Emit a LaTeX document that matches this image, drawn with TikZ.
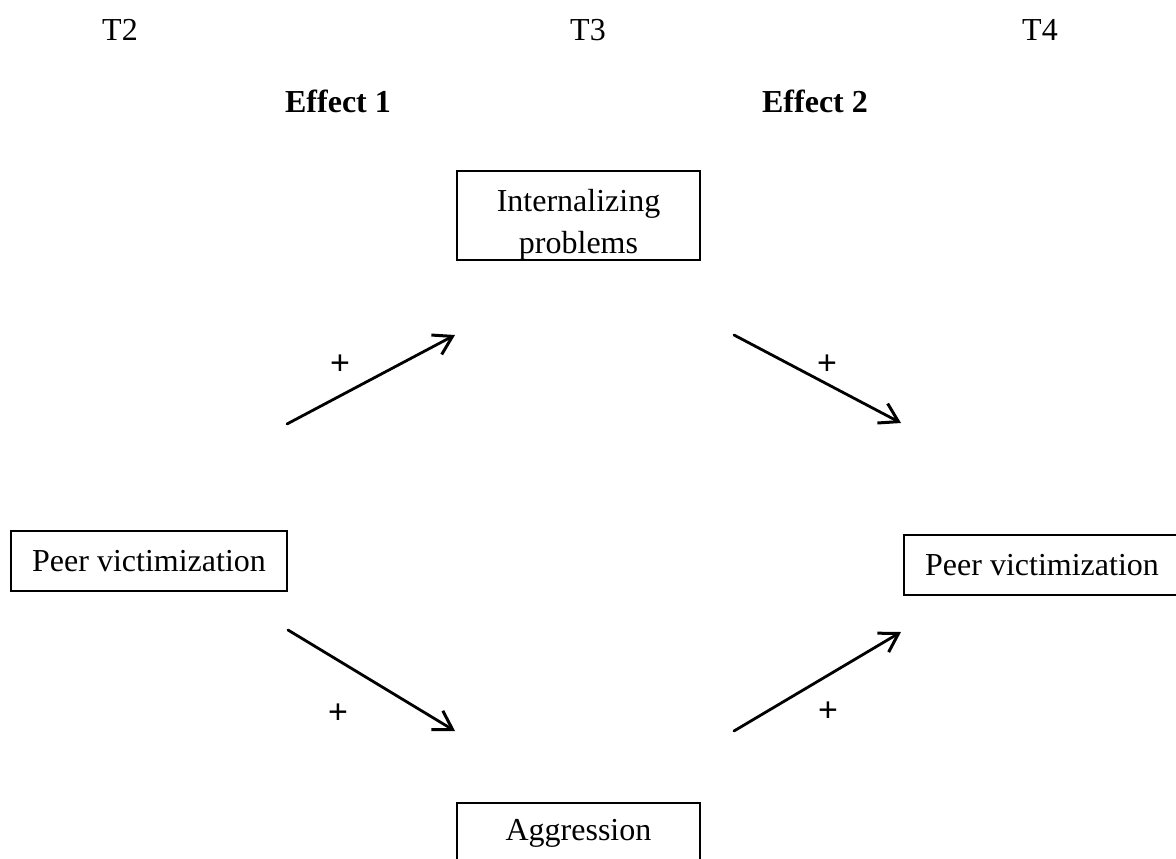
\documentclass[tikz,border=0pt]{standalone}
\usepackage{fontspec}
\setmainfont{Liberation Serif}
\newfontfamily\plusfont{Liberation Sans}
\usetikzlibrary{positioning,arrows.meta}

\begin{document}
\begin{tikzpicture}[x=1pt,y=-1pt,
  font=\fontsize{32}{42}\selectfont,
  box/.style={draw,line width=1.6pt,align=center,inner sep=0pt,minimum width=243pt},
  peer/.style={box,minimum width=276pt,minimum height=60pt},
  effect/.style={-{Straight Barb[length=18pt,width=22pt,line width=3pt]},line width=2.8pt,line cap=round},
  sign/.style={font=\fontsize{34}{38}\plusfont}]

\useasboundingbox (0,0) rectangle (1176,859);

% time points
\node (t2) at (120,30) {T2};
\node (t3) at (588,30) {T3};
\node (t4) at (1040,30) {T4};

% effects
\node (eff1) at (338,101) {\textbf{Effect 1}};
\node (eff2) at (815,101) {\textbf{Effect 2}};

% boxes
\node[box,minimum height=89pt] (int) at (578.5,215.5) {};
\node[align=center] (intlab) at ([yshift=-9pt]int.center) {Internalizing\\problems};
\node[peer] (pv2) at (149,561) {Peer victimization};
\node[peer] (pv4) at (1042,565) {Peer victimization};
\node[box,minimum height=60pt] (agg) at (578.5,833) {Aggression};

% arrow ends
\coordinate (a1s) at (287,424);
\coordinate (a1e) at (455,335);
\coordinate (a2s) at (734,335);
\coordinate (a2e) at (901,423);
\coordinate (a3s) at (288,630);
\coordinate (a3e) at (455,731);
\coordinate (a4s) at (734,731);
\coordinate (a4e) at (901,632);

% arrows
\draw[effect] (a1s) -- (a1e);
\draw[effect] (a2s) -- (a2e);
\draw[effect] (a3s) -- (a3e);
\draw[effect] (a4s) -- (a4e);

% signs
\node[sign] (s1) at (340,365) {+};
\node[sign] (s2) at (827,365) {+};
\node[sign] (s3) at (338,714) {+};
\node[sign] (s4) at (828,712) {+};
\end{tikzpicture}
\end{document}
